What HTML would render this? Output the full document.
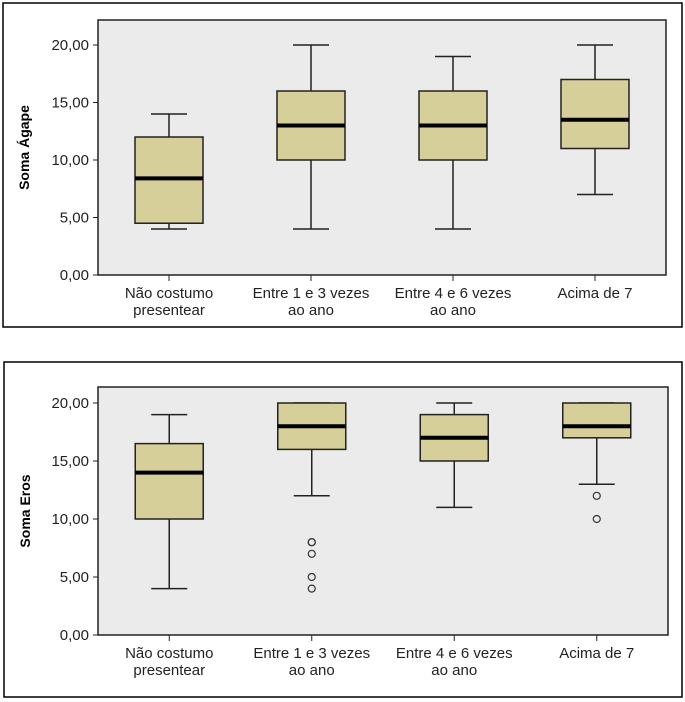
<!DOCTYPE html>
<html><head><meta charset="utf-8"><style>
body{margin:0;background:#fff;width:685px;height:702px;overflow:hidden;font-family:"Liberation Sans",sans-serif}
svg{display:block}
</style></head><body>
<svg id="s" width="685" height="702" xmlns="http://www.w3.org/2000/svg"></svg>
<script>
const categories=[["Não costumo","presentear"],["Entre 1 e 3 vezes","ao ano"],["Entre 4 e 6 vezes","ao ano"],["Acima de 7"]];
const tickValues=[0,5,10,15,20];
const tickLabels=["0,00","5,00","10,00","15,00","20,00"];
const agapeMin=[4,4,4,7];
const agapeQ1=[4.5,10,10,11];
const agapeMed=[8.4,13,13,13.5];
const agapeQ3=[12,16,16,17];
const agapeMax=[14,20,19,20];
const agapeOut=[[],[],[],[]];
const erosMin=[4,12,11,13];
const erosQ1=[10,16,15,17];
const erosMed=[14,18,17,18];
const erosQ3=[16.5,20,19,20];
const erosMax=[19,20,20,20];
const erosOut=[[],[8,8,7,5,4],[],[12,10]];
const NS="http://www.w3.org/2000/svg";
const svg=document.getElementById('s');
function mk(tag,attrs,parent,text){const e=document.createElementNS(NS,tag);for(const k in attrs)e.setAttribute(k,attrs[k]);if(text!==undefined)e.textContent=text;(parent||svg).appendChild(e);return e;}
function chart(o){
  const g=mk('g',{});
  
  
  const fr=mk('rect',{x:o.fx,y:o.fy,width:o.fw,height:o.fh,fill:'#fff',stroke:'#000','stroke-width':1.5},g);
  
  const pa=mk('rect',{x:o.px,y:o.py,width:o.pw,height:o.ph,fill:'#ebebeb',stroke:'#222','stroke-width':1.5},g);
  
  const y=v=>o.y0+(o.y20-o.y0)*v/20;
  const x=i=>o.px+o.pw*(i+0.5)/4;
  tickValues.forEach((v,i)=>{
    const t=mk('line',{x1:o.px-5,x2:o.px,y1:y(v),y2:y(v),stroke:'#222'},g);
    
    const l=mk('text',{x:o.px-9,y:y(v)+5,'text-anchor':'end','font-size':15,fill:'#222'},g,tickLabels[i]);
    
  });
  const yt=mk('text',{x:0,y:0,transform:`translate(${o.fx+26},${(o.py+o.py+o.ph)/2}) rotate(-90)`,'text-anchor':'middle','font-size':14,'font-weight':'bold'},g,o.title);
  
  categories.forEach((c,i)=>{
    const cx=x(i);
    const tk=mk('line',{x1:cx,x2:cx,y1:o.py+o.ph,y2:o.py+o.ph+6,stroke:'#222'},g);
    
    c.forEach((s,j)=>{const t=mk('text',{x:cx,y:o.py+o.ph+23+j*17,'text-anchor':'middle','font-size':15,fill:'#222'},g,s);
      });
    const bw=68,cw=36;
    const wh=mk('path',{d:`M${cx} ${y(o.mx[i])}V${y(o.q3[i])}M${cx} ${y(o.q1[i])}V${y(o.mn[i])}M${cx-cw/2} ${y(o.mx[i])}H${cx+cw/2}M${cx-cw/2} ${y(o.mn[i])}H${cx+cw/2}`,stroke:'#222','stroke-width':1.5,fill:'none'},g);
    
    const b=mk('rect',{x:cx-bw/2,y:y(o.q3[i]),width:bw,height:y(o.q1[i])-y(o.q3[i]),fill:'#d6cf99',stroke:'#222','stroke-width':1.5},g);
    
    const m=mk('line',{x1:cx-bw/2,x2:cx+bw/2,y1:y(o.md[i]),y2:y(o.md[i]),stroke:'#000','stroke-width':4},g);
    
    o.out[i].forEach(v=>{const p=mk('circle',{cx:cx,cy:y(v),r:3.5,fill:'none',stroke:'#333','stroke-width':1.2},g);
      });
  });
}
chart({name:'agape-chart',title:'Soma Ágape',fx:3,fy:3,fw:679,fh:324,px:98,py:20,pw:568,ph:255,y0:275,y20:45,
  mn:agapeMin,q1:agapeQ1,md:agapeMed,q3:agapeQ3,mx:agapeMax,out:agapeOut});
chart({name:'eros-chart',title:'Soma Eros',fx:4,fy:362,fw:678,fh:335,px:98,py:387,pw:570,ph:248,y0:635,y20:403,
  mn:erosMin,q1:erosQ1,md:erosMed,q3:erosQ3,mx:erosMax,out:erosOut});
</script>
</body></html>
